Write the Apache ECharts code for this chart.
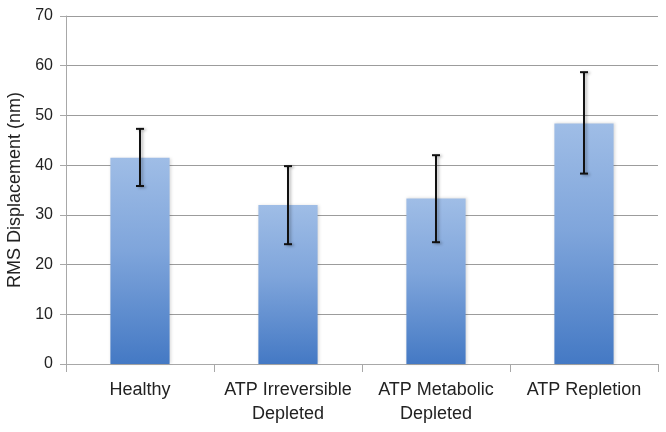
<!DOCTYPE html>
<html><head><meta charset="utf-8">
<script src="https://cdn.jsdelivr.net/npm/echarts@6/dist/echarts.min.js"></script>
<style>html,body{margin:0;padding:0;background:#fff}#c{width:666px;height:432px}</style>
</head><body><div id="c"></div>
<script>
var categories = ['Healthy', 'ATP Irreversible\nDepleted', 'ATP Metabolic\nDepleted', 'ATP Repletion'];
var means = [41.5, 32.0, 33.3, 48.4];
var errLow = [35.8, 24.1, 24.5, 38.3];
var errHigh = [47.3, 39.8, 42.0, 58.7];
var yTicks = [0, 10, 20, 30, 40, 50, 60, 70];

var errData = categories.map(function (c, i) { return [i, errLow[i], errHigh[i]]; });
var font = 'Liberation Sans, Arial, sans-serif';
var chart = echarts.init(document.getElementById('c'));
chart.setOption({
  animation: false,
  grid: { left: 66, right: 8, top: 16, bottom: 68, containLabel: false, outerBoundsMode: 'none' },
  xAxis: {
    type: 'category', data: categories,
    axisLine: { lineStyle: { color: '#a8a8a8', width: 1 } },
    axisTick: { show: true, length: 8, lineStyle: { color: '#a8a8a8' } },
    axisLabel: { color: '#222', fontFamily: font, fontSize: 18, margin: 14, lineHeight: 24, interval: 0 }
  },
  yAxis: {
    type: 'value', min: yTicks[0], max: yTicks[yTicks.length - 1], interval: 10,
    name: 'RMS Displacement (nm)', nameLocation: 'middle', nameGap: 41,
    nameTextStyle: { color: '#222', fontFamily: font, fontSize: 18 },
    axisLine: { show: true, lineStyle: { color: '#a8a8a8' } },
    axisTick: { show: true, length: 6, lineStyle: { color: '#a8a8a8' } },
    axisLabel: { color: '#222', fontFamily: font, fontSize: 16, margin: 13 },
    splitLine: { lineStyle: { color: '#9c9c9c', width: 1 } }
  },
  series: [{
    type: 'bar', data: means, barWidth: '40%',
    itemStyle: {
      color: new echarts.graphic.LinearGradient(0, 0, 0, 1, [
        { offset: 0, color: '#9fbde6' },
        { offset: 0.45, color: '#7fa5db' },
        { offset: 1, color: '#4479c4' }
      ]),
      shadowColor: 'rgba(0,0,0,0.15)', shadowBlur: 3, shadowOffsetX: 1
    }
  }, {
    type: 'custom', data: errData, z: 10,
    renderItem: function (params, api) {
      var x = api.value(0);
      var lo = api.coord([x, api.value(1)]);
      var hi = api.coord([x, api.value(2)]);
      var cap = 4;
      var style = { stroke: '#111', lineWidth: 2, shadowColor: 'rgba(0,0,0,0.3)', shadowBlur: 3, shadowOffsetX: 2, shadowOffsetY: 1 };
      return { type: 'group', children: [
        { type: 'line', shape: { x1: hi[0], y1: hi[1], x2: lo[0], y2: lo[1] }, style: style },
        { type: 'line', shape: { x1: hi[0] - cap, y1: hi[1], x2: hi[0] + cap, y2: hi[1] }, style: style },
        { type: 'line', shape: { x1: lo[0] - cap, y1: lo[1], x2: lo[0] + cap, y2: lo[1] }, style: style }
      ] };
    }
  }]
});
</script></body></html>
